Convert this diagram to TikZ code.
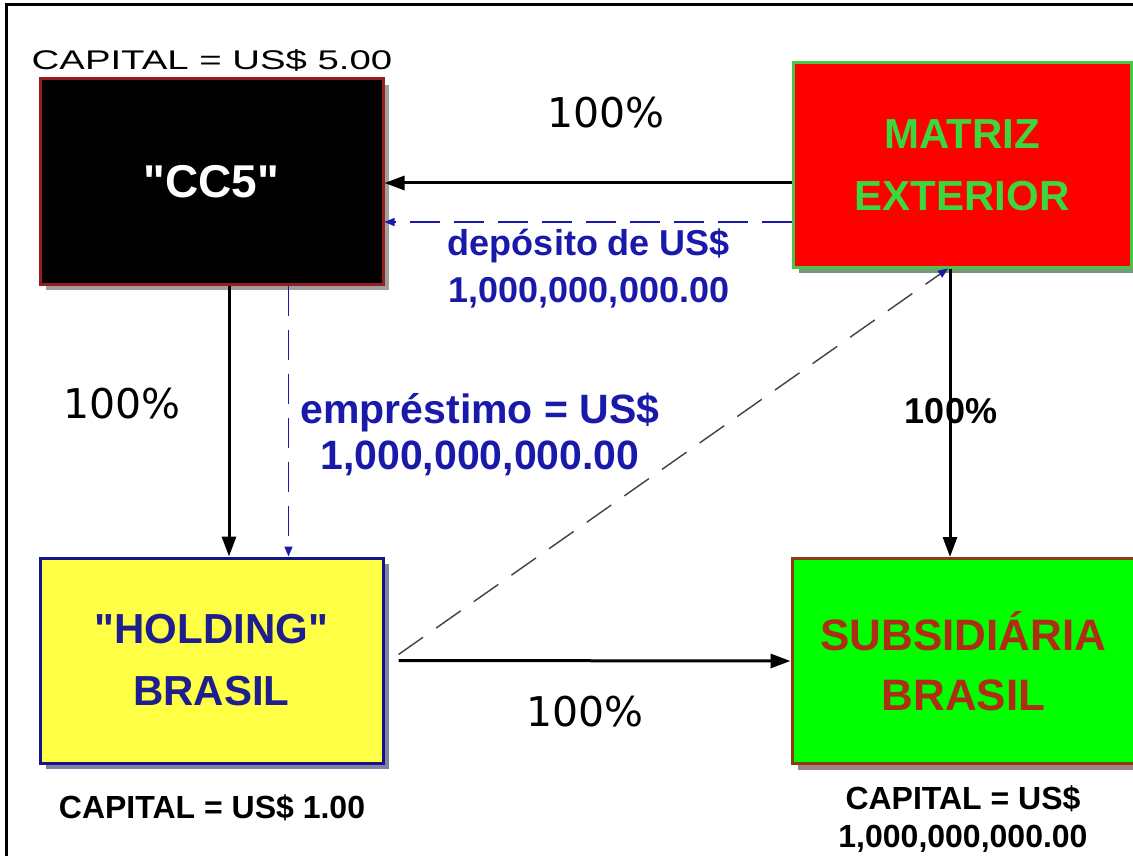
\documentclass[tikz,border=0pt]{standalone}
\usepackage{fontspec}
\setmainfont{Liberation Sans}
\newfontfamily\plainfont{Liberation Sans}
\newfontfamily\pctfont{DejaVu Sans}
\newfontfamily\widefont[FakeStretch=1.42]{Liberation Sans}
\usetikzlibrary{arrows.meta,shadows}
\definecolor{CcLine} {RGB}{150,30,30}
\definecolor{CcShd}  {RGB}{160,160,160}
\definecolor{MatFill}{RGB}{255,0,0}
\definecolor{MatLine}{RGB}{70,200,70}
\definecolor{MatText}{RGB}{60,215,60}
\definecolor{MatShd} {RGB}{120,150,120}
\definecolor{HolFill}{RGB}{255,255,70}
\definecolor{HolLine}{RGB}{20,20,140}
\definecolor{HolText}{RGB}{30,30,140}
\definecolor{HolShd} {RGB}{130,130,160}
\definecolor{SubFill}{RGB}{0,255,0}
\definecolor{SubLine}{RGB}{140,60,20}
\definecolor{SubText}{RGB}{175,45,20}
\definecolor{SubShd} {RGB}{160,130,130}
\definecolor{LblBlue}{RGB}{25,25,170}
\tikzset{
  nd_box/.style={rectangle,minimum width=343pt,minimum height=205pt,line width=3pt,align=center,inner sep=0pt},
  shd/.style={drop shadow={shadow xshift=6pt,shadow yshift=-6pt,fill=#1,opacity=1}},
  arr/.style={-{Triangle[length=20pt,width=14pt]},line width=3pt},
  arr_blue/.style={-{Triangle[length=10pt,width=8pt]},line width=1.6pt,LblBlue,dash pattern=on 30pt off 14pt},
  arr_diag/.style={-{Triangle[length=10pt,width=8pt,color=LblBlue]},line width=1.4pt,black!75,dash pattern=on 30pt off 16pt},
  lbl_pct/.style={font=\pctfont\fontsize{41}{45}\selectfont},
  lbl_pctb/.style={font=\fontsize{36}{40}\selectfont\bfseries},
  lbl_dep/.style={text=LblBlue,align=center,font=\fontsize{36}{47}\selectfont\bfseries},
  lbl_emp/.style={text=LblBlue,align=center,font=\fontsize{41}{46}\selectfont\bfseries},
  lbl_cap/.style={align=center,font=\fontsize{32}{38}\selectfont\bfseries},
}
\begin{document}
\begin{tikzpicture}[x=1pt,y=-1pt]

\useasboundingbox (0,0) rectangle (1133,856);
\clip (0,0) rectangle (1133,856);

% frame
\draw[line width=3pt] (6,860) -- (6,5) -- (1140,5);

% boxes
\node[nd_box,shd=CcShd,fill=black,draw=CcLine,text=white,font=\plainfont\fontsize{46}{50}\selectfont\bfseries]
  at (211.5,181.5) (cc5) {"CC5"};
\node[nd_box,shd=MatShd,fill=MatFill,draw=MatLine,text=MatText,minimum width=338pt,minimum height=204pt,font=\fontsize{42}{62}\selectfont\bfseries]
  at (962,165) (mat) {MATRIZ\\EXTERIOR};
\node[nd_box,shd=HolShd,fill=HolFill,draw=HolLine,text=HolText,font=\plainfont\fontsize{42}{62}\selectfont\bfseries]
  at (211.5,660.5) (hold) {"HOLDING"\\BRASIL};
\node[nd_box,shd=SubShd,fill=SubFill,draw=SubLine,text=SubText,font=\fontsize{44}{60}\selectfont\bfseries]
  at (963.5,661) (subs) {SUBSIDIÁRIA\\BRASIL};

% capital labels
\node[font=\widefont\fontsize{27}{30}\selectfont] at (212,60) (cap5) {CAPITAL = US\$ 5.00};
\node[lbl_cap] at (212,808) (cap1) {CAPITAL = US\$ 1.00};
\node[lbl_cap] at (963,819) (capb) {CAPITAL = US\$\\1,000,000,000.00};

% connectors
\draw[arr] ([yshift=-18pt]mat.west) coordinate (t1) -- (t1 -| cc5.east);
\draw[arr_blue] ([yshift=-57pt]mat.west) coordinate (t2) -- (t2 -| cc5.east);
\draw[arr] ([xshift=17.5pt]cc5.south) coordinate (t3) -- (t3 |- hold.north);
\draw[arr_blue] ([xshift=77pt]cc5.south) coordinate (t4) -- (t4 |- hold.north);
\draw[arr] ([xshift=-12pt]mat.south) coordinate (t5) -- (t5 |- subs.north);
\draw[arr] ([xshift=14pt]hold.east) -- (subs.west);
\draw[arr_diag] ([xshift=14pt,yshift=6pt]hold.east) -- ([xshift=-14pt]mat.south);

% percentages and amounts
\node[lbl_pct] at (606,113) (p_top) {100\%};
\node[lbl_pct] at (122,404) (p_left) {100\%};
\node[lbl_pctb] at (951,411) (p_right) {100\%};
\node[lbl_pct] at (585,712) (p_bot) {100\%};
\node[lbl_dep] at (589,268) (dep) {depósito de US\$\\1,000,000,000.00};
\node[lbl_emp] at (480,434) (emp) {empréstimo = US\$\\1,000,000,000.00};

\end{tikzpicture}
\end{document}
